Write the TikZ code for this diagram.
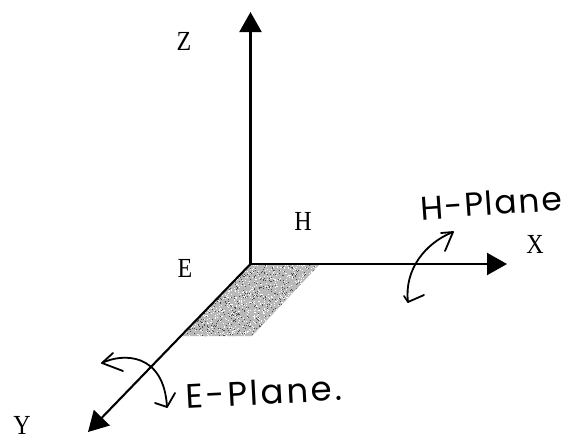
\documentclass[tikz,border=0pt]{standalone}
\usepackage{fontspec}
\usetikzlibrary{arrows.meta}
\setmainfont{Liberation Serif}
\newfontfamily\handfont[LetterSpace=8]{Poppins}
\newfontfamily\handfontb[LetterSpace=5]{Poppins}
\tikzset{
  axis/.style={line width=2.1pt,-{Triangle[length=20pt,width=22pt]}},
  handline/.style={line width=1.8pt,line cap=round,line join=round},
  lab/.style={inner sep=0pt,font=\fontsize{24}{24}\selectfont},
  hand/.style={inner sep=0pt,font=\handfont\fontsize{34}{34}\selectfont},
  handb/.style={inner sep=0pt,font=\handfontb\fontsize{33}{33}\selectfont}
}
\newcommand{\tall}[1]{\scalebox{1}[1.15]{#1}}
\begin{document}
\begin{tikzpicture}[x=1pt,y=-1pt]
\useasboundingbox (0,0) rectangle (572,440);
\fill[white] (0,0) rectangle (572,440);
% shaded patch
\begin{scope}
\clip (250,264) -- (320,264) -- (252,336) -- (183,336) -- cycle;
\fill[gray!55] (180,262) rectangle (322,338);
\pgfmathsetseed{7}
\foreach \i in {1,...,900}{
  \pgfmathsetmacro{\px}{180+rnd*142}
  \pgfmathsetmacro{\py}{262+rnd*76}
  \fill[black!70] (\px,\py) rectangle +(1,1);
}
\foreach \i in {1,...,1200}{
  \pgfmathsetmacro{\px}{180+rnd*142}
  \pgfmathsetmacro{\py}{262+rnd*76}
  \fill[white] (\px,\py) rectangle +(1,1);
}
\end{scope}
% axes
\coordinate (O) at (250.5,264);
\coordinate (Ztip) at (250.5,12);
\coordinate (Xtip) at (507,264);
\coordinate (Ytip) at (88,432);
\draw[axis] (O) -- (Ztip);
\draw[axis] (O) -- (Xtip);
\draw[axis] (O) -- (Ytip);
% printed labels
\node[lab] (lz) at (184,41) {\tall{Z}};
\node[lab] (lh) at (303,221) {\tall{H}};
\node[lab] (le) at (185,268) {\tall{E}};
\node[lab] (lx) at (535,244) {\tall{X}};
\node[lab] (ly) at (22,425) {\tall{Y}};
% handwritten arcs
\coordinate (Ea) at (102,363);
\coordinate (Eb) at (167,407);
\draw[handline] (Ea) .. controls (122,353) and (164,352) .. (Eb);
\draw[handline] (113,353) -- (Ea) -- (123,371);
\draw[handline] (155,403) -- (Eb) -- (175,393);
\coordinate (Ha) at (453,232);
\coordinate (Hb) at (408,302);
\draw[handline] (Ha) .. controls (425,243) and (404,270) .. (Hb);
\draw[handline] (441,233) -- (Ha) -- (445,251);
\draw[handline] (404,296) -- (Hb) -- (424,295);
% handwritten labels
\node[hand,rotate=3,anchor=west] (ep) at (186,396) {E-Plane.};
\node[handb,rotate=4,anchor=west] (hp) at (420,208) {H-Plane};
\end{tikzpicture}
\end{document}
